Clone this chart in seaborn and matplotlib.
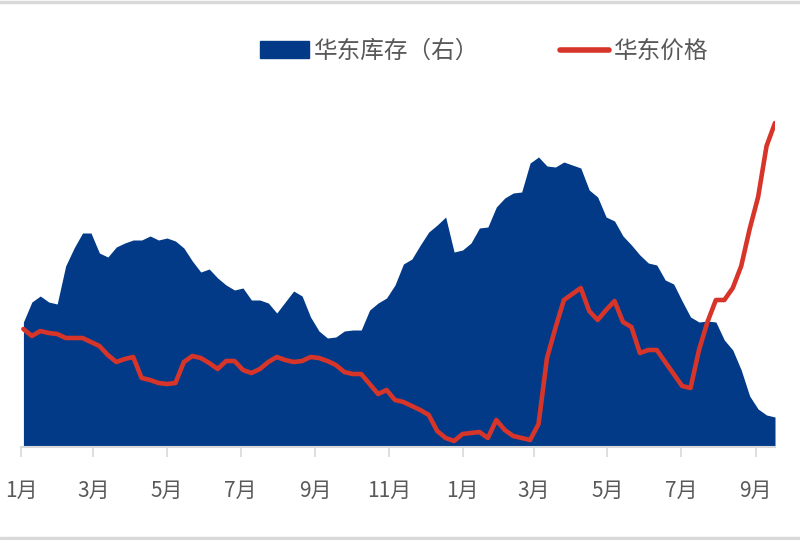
import numpy as np
import pandas as pd
import matplotlib
matplotlib.use("Agg")
import matplotlib.pyplot as plt
import matplotlib.patches as mpatches
from matplotlib.lines import Line2D
import seaborn as sns

# weekly data
dates = pd.date_range("2020-01-03", periods=90, freq="W-FRI")

inventory = [  # 华东库存 (right axis)
    12.5, 14.5, 15.1, 14.5, 14.3, 18.1, 19.9, 21.4, 21.4, 19.4,
    19.0, 20.0, 20.4, 20.7, 20.7, 21.1, 20.7, 20.9, 20.6, 19.9,
    18.6, 17.5, 17.8, 16.9, 16.2, 15.7, 15.9, 14.7, 14.7, 14.4,
    13.4, 14.5, 15.6, 15.1, 13.0, 11.6, 10.9, 11.0, 11.6, 11.7,
    11.7, 13.7, 14.4, 14.9, 16.2, 18.3, 18.8, 20.2, 21.5, 22.2,
    23.0, 19.5, 19.7, 20.4, 21.9, 22.0, 24.0, 24.9, 25.4, 25.5,
    28.4, 29.0, 28.1, 28.0, 28.5, 28.2, 27.9, 25.7, 25.0, 23.0,
    22.6, 21.1, 20.2, 19.2, 18.4, 18.2, 16.7, 16.3, 14.6, 13.0,
    12.5, 12.6, 12.5, 10.7, 9.7, 7.7, 5.1, 3.8, 3.2, 3.0,
]

price = [  # 华东价格
    8950, 8775, 8900, 8850, 8825, 8725, 8725, 8725, 8625, 8525,
    8300, 8125, 8200, 8250, 7725, 7675, 7600, 7575, 7600, 8125,
    8275, 8225, 8100, 7950, 8150, 8150, 7925, 7850, 7950, 8125,
    8250, 8175, 8125, 8150, 8250, 8225, 8150, 8050, 7875, 7825,
    7825, 7575, 7325, 7425, 7175, 7125, 7025, 6925, 6800, 6400,
    6225, 6150, 6325, 6350, 6375, 6225, 6675, 6425, 6275, 6225,
    6175, 6575, 8225, 8975, 9675, 9825, 9975, 9400, 9175, 9425,
    9650, 9125, 9000, 8350, 8425, 8425, 8125, 7825, 7525, 7475,
    8425, 9125, 9675, 9675, 9975, 10525, 11450, 12250, 13525, 14100,
]

tick_dates = pd.to_datetime([
    "2020-01-01", "2020-03-01", "2020-05-01", "2020-07-01", "2020-09-01",
    "2020-11-01", "2021-01-01", "2021-03-01", "2021-05-01", "2021-07-01",
    "2021-09-01",
])
tick_labels = ["1月", "3月", "5月", "7月", "9月", "11月",
               "1月", "3月", "5月", "7月", "9月"]

BLUE = "#023a87"
RED = "#d7352a"
GREY_TXT = "#595959"
GREY_LINE = "#d9d9d9"

df = pd.DataFrame({"date": dates, "inventory": inventory, "price": price})

sns.set_theme(style="white")
plt.rcParams["font.family"] = ["Noto Sans CJK SC", "DejaVu Sans"]

fig = plt.figure(figsize=(8, 5.4), dpi=100)
ax = fig.add_axes([21 / 800, 93 / 540, 754 / 800, 350 / 540])
ax2 = ax.twinx()

# inventory area on the right axis
ax2.fill_between(df["date"], 0, df["inventory"], color=BLUE, linewidth=0)
ax2.set_ylim(0, 35)

# price line on the left axis, drawn above the area
sns.lineplot(data=df, x="date", y="price", ax=ax, color=RED, linewidth=3.3)
ax.set_ylim(6000, 14750)
ax.set_zorder(ax2.get_zorder() + 1)
ax.patch.set_visible(False)

ax.set_xlim(dates[0], dates[-1])
ax.set_xticks(tick_dates)
ax.set_xticklabels(tick_labels, fontsize=15, color=GREY_TXT)
ax.tick_params(axis="x", direction="out", length=7, width=1.2,
               color=GREY_LINE, pad=17, bottom=True)
ax.set_xlabel("")
ax.set_ylabel("")
ax.set_yticks([])
ax2.set_yticks([])
ax2.set_ylabel("")

for a in (ax, ax2):
    for side in ("top", "left", "right", "bottom"):
        a.spines[side].set_visible(False)
ax.spines["bottom"].set_visible(True)
ax.spines["bottom"].set_color(GREY_LINE)
ax.spines["bottom"].set_linewidth(1.5)

handles = [
    mpatches.Patch(color=BLUE, label="华东库存（右）"),
    Line2D([0], [0], color=RED, linewidth=4, label="华东价格"),
]
fig.legend(handles=handles, loc="center", bbox_to_anchor=(0.605, 0.905),
           ncol=2, frameon=False, fontsize=17, labelcolor=GREY_TXT,
           handlelength=2.1, handleheight=0.7, handletextpad=0.2,
           columnspacing=3.4)

# thin grey frame lines at the top and bottom of the image
fig.add_artist(Line2D([0, 1], [0.997, 0.997], color=GREY_LINE, linewidth=2.5,
                      transform=fig.transFigure))
fig.add_artist(Line2D([0, 1], [0.003, 0.003], color=GREY_LINE, linewidth=2.5,
                      transform=fig.transFigure))

fig.savefig("out.png", dpi=100)
plt.close(fig)
